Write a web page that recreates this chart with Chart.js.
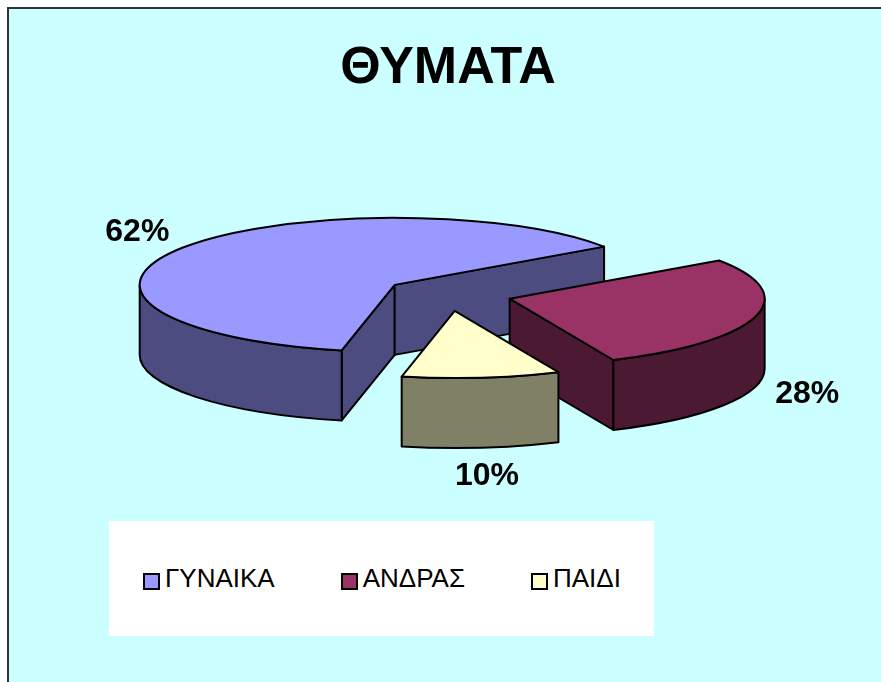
<!DOCTYPE html>
<html>
<head>
<meta charset="utf-8">
<script src="https://cdn.jsdelivr.net/npm/chart.js@4/dist/chart.umd.min.js"></script>
<style>
	body { margin: 0; background: #fff; font-family: "Liberation Sans", Arial, sans-serif; }
	#frame { position: absolute; left: 7px; top: 7px; width: 872px; height: 673px;
		border-top: 2px solid #333; border-left: 2px solid #333; background: #CCFFFF; overflow: hidden; }
	#wrap { position: absolute; left: 0; top: 0; width: 872px; height: 673px; }
	#legend { position: absolute; left: 100px; top: 512px; width: 511px; height: 115px; padding-left: 34px;
		background: #fff; display: flex; align-items: center; gap: 66px; }
	.item { display: flex; align-items: center; font-size: 26px; color: #000; }
	.box { width: 13px; height: 13px; border: 2px solid #000; margin-right: 5px; margin-top: 6px; }
</style>
</head>
<body>
<div id="frame">
	<div id="wrap"><canvas id="pie-chart"></canvas></div>
	<div id="legend"></div>
</div>
<script>
// data
var labels = ['ΓΥΝΑΙΚΑ', 'ΑΝΔΡΑΣ', 'ΠΑΙΔΙ'];
var values = [62, 28, 10];
var topColors = ['#9999FF', '#993366', '#FFFFCC'];
var sideColors = ['#4C4C80', '#4C1933', '#808066'];

// 3d look
var K = 0.263;      // vertical squash of the pie
var DEPTH = 70;     // thickness
var EXPLODE = 64;

var total = values.reduce(function(a, b) { return a + b; }, 0);

// Draws the slices as a tilted, exploded 3d pie from the arc elements
var pie3d = {
	id: 'pie3d',
	beforeDatasetsDraw: function(chart) {
		var ctx = chart.ctx;
		var els = chart.getDatasetMeta(0).data;
		var slices = els.map(function(el, i) {
			var m = (el.startAngle + el.endAngle) / 2;
			var off = el.options.offset;
			return {
				i: i, m: m, r: el.outerRadius, a0: el.startAngle, a1: el.endAngle,
				cx: el.x + off * Math.cos(m), cy: el.y + off * Math.sin(m) * K
			};
		});
		var order = slices.slice().sort(function(a, b) { return Math.sin(a.m) - Math.sin(b.m); });

		ctx.save();
		ctx.lineWidth = 2;
		ctx.strokeStyle = '#000';
		ctx.lineJoin = 'round';

		function face(s, a) {
			var x = s.cx + s.r * Math.cos(a), y = s.cy + s.r * Math.sin(a) * K;
			ctx.beginPath();
			ctx.moveTo(s.cx, s.cy);
			ctx.lineTo(x, y);
			ctx.lineTo(x, y + DEPTH);
			ctx.lineTo(s.cx, s.cy + DEPTH);
			ctx.closePath();
			ctx.fill();
			ctx.stroke();
		}

		order.forEach(function(s) {
			ctx.fillStyle = sideColors[s.i];
			if (Math.cos(s.a0) < 0) face(s, s.a0);
			if (Math.cos(s.a1) > 0) face(s, s.a1);
			// front part of the rim
			var T = Math.PI * 2;
			for (var k = Math.floor(s.a0 / T) - 1; k <= Math.ceil(s.a1 / T); k++) {
				var st = Math.max(s.a0, k * T), en = Math.min(s.a1, k * T + Math.PI);
				if (en > st) {
					ctx.beginPath();
					ctx.ellipse(s.cx, s.cy, s.r, s.r * K, 0, st, en, false);
					ctx.ellipse(s.cx, s.cy + DEPTH, s.r, s.r * K, 0, en, st, true);
					ctx.closePath();
					ctx.fill();
					ctx.stroke();
				}
			}
			// top
			ctx.fillStyle = topColors[s.i];
			ctx.beginPath();
			ctx.moveTo(s.cx, s.cy);
			ctx.ellipse(s.cx, s.cy, s.r, s.r * K, 0, s.a0, s.a1, false);
			ctx.closePath();
			ctx.fill();
			ctx.stroke();
		});

		// percentage labels
		ctx.fillStyle = '#000';
		ctx.font = 'bold 32px "Liberation Sans", Arial, sans-serif';
		ctx.textAlign = 'center';
		ctx.textBaseline = 'middle';
		slices.forEach(function(s) {
			var c = Math.cos(s.m), n = Math.sin(s.m);
			var x = s.cx + (s.r + 18) * c + 36 * c;
			var y = s.cy + (s.r + 18) * n * K + (n > 0 ? DEPTH : 0) + 24 * n;
			ctx.fillText(Math.round(values[s.i] / total * 100) + '%', x, y);
		});
		ctx.restore();
		return false;
	}
};

var chart = new Chart(document.getElementById('pie-chart'), {
	type: 'pie',
	data: {
		labels: labels,
		datasets: [{
			data: values,
			backgroundColor: topColors,
			borderWidth: 0,
			offset: EXPLODE
		}]
	},
	options: {
		responsive: true,
		maintainAspectRatio: false,
		animation: false,
		events: [],
		rotation: 192,
		radius: 255,
		layout: { padding: { left: 6, right: 0, top: 0, bottom: 203 } },
		plugins: {
			legend: { display: false },
			tooltip: { enabled: false },
			title: {
				display: true,
				text: 'ΘΥΜΑΤΑ',
				color: '#000',
				font: { family: '"Liberation Sans", Arial, sans-serif', size: 52, weight: 'bold' },
				padding: { top: 28, bottom: 10 }
			}
		}
	},
	plugins: [pie3d]
});

// legend box
var legend = document.getElementById('legend');
labels.forEach(function(label, i) {
	var item = document.createElement('div');
	item.className = 'item';
	var box = document.createElement('span');
	box.className = 'box';
	box.style.background = topColors[i];
	item.appendChild(box);
	item.appendChild(document.createTextNode(label));
	legend.appendChild(item);
});
</script>
</body>
</html>
